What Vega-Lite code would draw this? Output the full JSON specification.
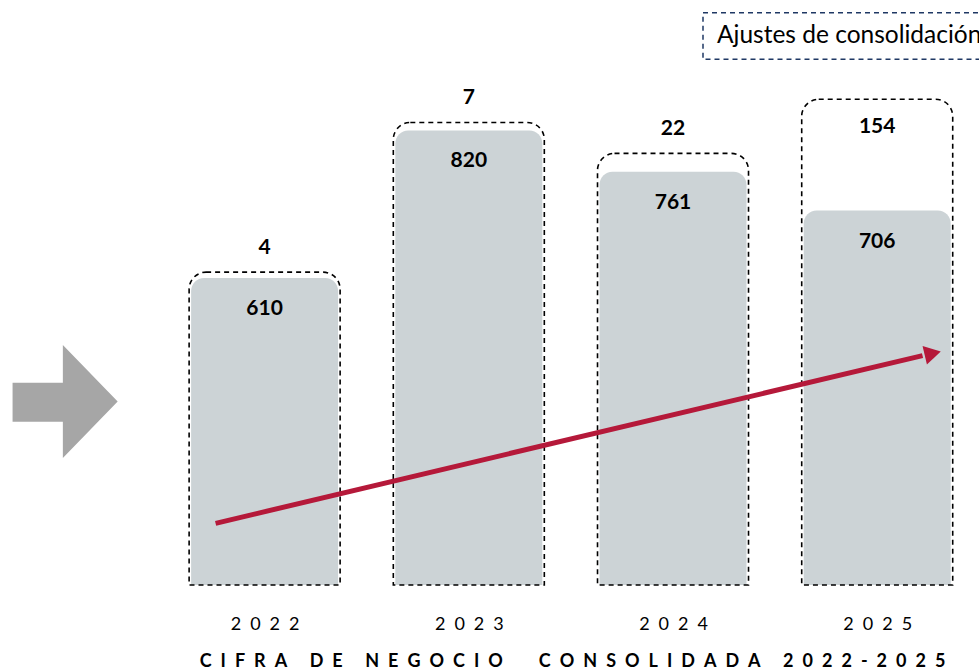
{
  "$schema": "https://vega.github.io/schema/vega-lite/v6.json",
  "width": 979,
  "height": 585,
  "autosize": {"type": "none"},
  "padding": {"left": 0, "right": 0, "top": 0, "bottom": 86},
  "background": "white",
  "config": {
    "view": {"stroke": null},
    "font": "Lato",
    "title": {"font": "Lato", "fontWeight": "bold", "fontSize": 18, "color": "#000000"}
  },
  "title": {
    "text": "C\u2002I\u2002F\u2002R\u2002A\u2003\u2002D\u2002E\u2003\u2002N\u2002E\u2002G\u2002O\u2002C\u2002I\u2002O\u2003\u2003\u2002C\u2002O\u2002N\u2002S\u2002O\u2002L\u2002I\u2002D\u2002A\u2002D\u2002A\u2003\u20022\u20020\u20022\u20022\u2002-\u20022\u20020\u20022\u20025",
    "orient": "bottom",
    "anchor": "middle",
    "dx": 83,
    "offset": 20
  },
  "datasets": {
    "cifra": [
      {"year": 2022, "value": 610, "adj": 4, "total": 614},
      {"year": 2023, "value": 820, "adj": 7, "total": 827},
      {"year": 2024, "value": 761, "adj": 22, "total": 783},
      {"year": 2025, "value": 706, "adj": 154, "total": 860}
    ],
    "tendencia": [
      {"year": 2021.76, "value": 260.8},
      {"year": 2025.222, "value": 499.5}
    ],
    "punta": [
      {"year": 2025.272, "value": 502.6}
    ],
    "flecha_gris": [
      {"year": 2021.023, "value": 434.2}
    ]
  },
  "encoding": {
    "x": {
      "field": "year",
      "type": "quantitative",
      "scale": {"domain": [2020.7286, 2025.474], "nice": false, "zero": false},
      "axis": {
        "values": [2022, 2023, 2024, 2025],
        "format": "d",
        "labelExpr": "join(split(datum.label, ''), '\u2002')",
        "title": null,
        "domain": false,
        "ticks": false,
        "grid": false,
        "labelFont": "Lato",
        "labelFontSize": 18,
        "labelColor": "#000000",
        "labelPadding": 30
      }
    },
    "y": {
      "field": "value",
      "type": "quantitative",
      "scale": {"domain": [173, 1005.6], "nice": false, "zero": false},
      "axis": null
    }
  },
  "layer": [
    {
      "data": {"name": "flecha_gris"},
      "mark": {
        "type": "point",
        "filled": true,
        "fill": "#a6a6a6",
        "opacity": 1,
        "strokeWidth": 0,
        "size": 12769,
        "shape": "M -0.93 -0.33 L -0.04 -0.33 L -0.04 -1 L 0.93 0 L -0.04 1 L -0.04 0.36 L -0.93 0.36 Z"
      }
    },
    {
      "data": {"name": "cifra"},
      "mark": {
        "type": "bar",
        "orient": "vertical",
        "size": 147,
        "color": "#ccd3d6",
        "cornerRadiusTopLeft": 13,
        "cornerRadiusTopRight": 13
      },
      "encoding": {
        "y2": {"datum": 173}
      }
    },
    {
      "data": {"name": "cifra"},
      "mark": {
        "type": "bar",
        "orient": "vertical",
        "size": 151,
        "filled": false,
        "stroke": "#000000",
        "strokeWidth": 1.6,
        "yOffset": -3,
        "cornerRadiusTopLeft": 17,
        "cornerRadiusTopRight": 17
      },
      "encoding": {
        "y": {"field": "total", "type": "quantitative"},
        "y2": {"datum": 173},
        "strokeDash": {
          "datum": "Ajustes de consolidación",
          "scale": {"range": [[5, 4]]},
          "legend": {
            "title": null,
            "orient": "none",
            "legendX": 702,
            "legendY": -115,
            "padding": 0,
            "symbolType": "M -1 -0.155 L 1 -0.155 L 1 0.155 L -1 0.155 Z",
            "symbolSize": 90000,
            "symbolStrokeWidth": 1.5,
            "symbolStrokeColor": "#1f3864",
            "symbolFillColor": "transparent",
            "symbolOpacity": 1,
            "labelOffset": -287,
            "labelFont": "Lato",
            "labelFontSize": 24.5,
            "labelColor": "#000000",
            "labelLimit": 400,
            "encode": {
              "symbols": {
                "update": {
                  "stroke": {"value": "#1f3864"},
                  "strokeWidth": {"value": 1.5},
                  "strokeOpacity": {"value": 1},
                  "opacity": {"value": 1},
                  "fill": {"value": "transparent"}
                }
              }
            }
          }
        }
      }
    },
    {
      "data": {"name": "tendencia"},
      "mark": {"type": "line", "color": "#b5193a", "strokeWidth": 5, "strokeCap": "butt"}
    },
    {
      "data": {"name": "punta"},
      "mark": {
        "type": "point",
        "shape": "triangle-right",
        "filled": true,
        "fill": "#b5193a",
        "opacity": 1,
        "strokeWidth": 0,
        "size": 361,
        "angle": -13.3
      }
    },
    {
      "data": {"name": "cifra"},
      "mark": {
        "type": "text",
        "font": "Lato",
        "fontWeight": "bold",
        "fontSize": 21,
        "color": "#000000",
        "baseline": "middle",
        "dy": 31
      },
      "encoding": {
        "text": {"field": "value", "type": "quantitative", "format": "d"}
      }
    },
    {
      "data": {"name": "cifra"},
      "transform": [{"filter": "datum.year < 2025"}],
      "mark": {
        "type": "text",
        "font": "Lato",
        "fontWeight": "bold",
        "fontSize": 21,
        "color": "#000000",
        "baseline": "middle",
        "dy": -27
      },
      "encoding": {
        "y": {"field": "total", "type": "quantitative"},
        "text": {"field": "adj", "type": "quantitative", "format": "d"}
      }
    },
    {
      "data": {"name": "cifra"},
      "transform": [{"filter": "datum.year >= 2025"}],
      "mark": {
        "type": "text",
        "font": "Lato",
        "fontWeight": "bold",
        "fontSize": 21,
        "color": "#000000",
        "baseline": "middle",
        "dy": 25
      },
      "encoding": {
        "y": {"field": "total", "type": "quantitative"},
        "text": {"field": "adj", "type": "quantitative", "format": "d"}
      }
    }
  ]
}
